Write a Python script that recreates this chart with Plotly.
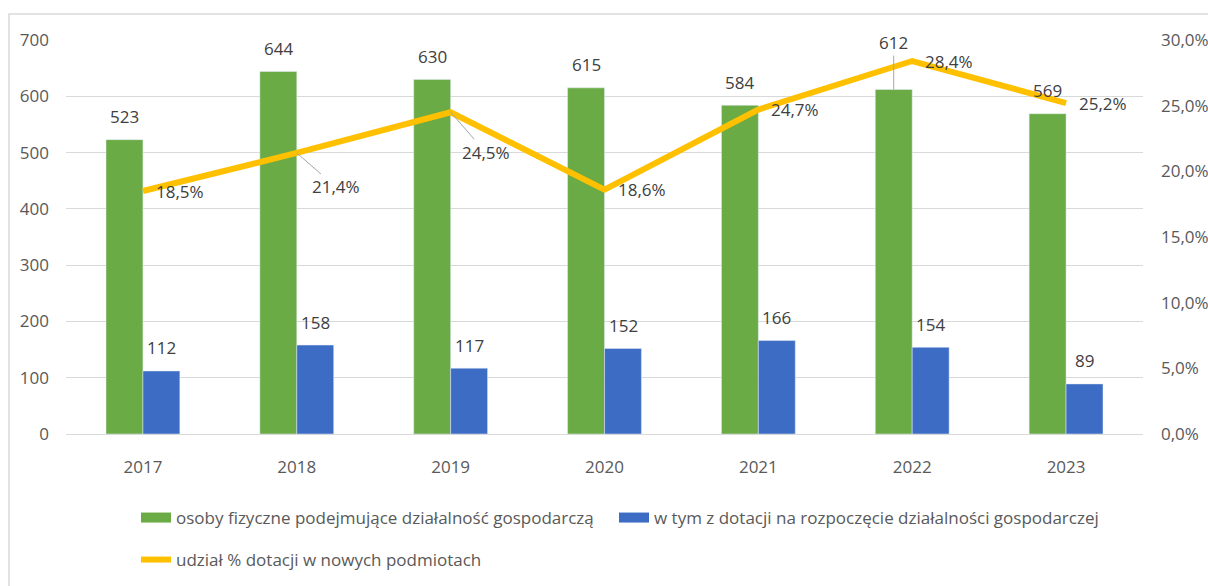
import plotly.graph_objects as go

years = ["2017", "2018", "2019", "2020", "2021", "2022", "2023"]
osoby = [523, 644, 630, 615, 584, 612, 569]
dotacje = [112, 158, 117, 152, 166, 154, 89]
udzial = [0.185, 0.214, 0.245, 0.186, 0.247, 0.284, 0.252]

name_osoby = "osoby fizyczne podejmujące działalność gospodarczą"
name_dot = "w tym z dotacji na rozpoczęcie działalności gospodarczej"
name_udz = "udział % dotacji w nowych podmiotach"

GREEN = "#6aab45"
BLUE = "#3d6cc5"
YELLOW = "#ffc000"
FONT = "Open Sans"
TXT = "#404040"
AX = "#595959"
GRID = "#d9d9d9"

fig = go.Figure()
fig.add_trace(go.Bar(x=years, y=osoby, name=name_osoby, marker_color=GREEN,
                     showlegend=False, offsetgroup="a"))
fig.add_trace(go.Bar(x=years, y=dotacje, name=name_dot, marker_color=BLUE,
                     showlegend=False, offsetgroup="b"))
fig.add_trace(go.Scatter(x=years, y=udzial, name=name_udz, yaxis="y2", mode="lines",
                         line=dict(color=YELLOW, width=6), showlegend=False))

# legend-only entries
fig.add_trace(go.Scatter(x=[None], y=[None], mode="lines", name=name_osoby,
                         line=dict(color=GREEN, width=13), legend="legend"))
fig.add_trace(go.Scatter(x=[None], y=[None], mode="lines", name=name_dot,
                         line=dict(color=BLUE, width=13), legend="legend2"))
fig.add_trace(go.Scatter(x=[None], y=[None], mode="lines", name=name_udz,
                         line=dict(color=YELLOW, width=6), legend="legend3"))

annotations = []
lbl_font = dict(family=FONT, size=17, color=TXT)
# annotation x uses the category serial number (numeric-looking category names)
for i, (yr, v) in enumerate(zip(years, osoby)):
    if yr == "2022":
        annotations.append(dict(x=i, y=v, xref="x", yref="y", text=str(v), showarrow=True,
                                arrowhead=0, arrowwidth=1, arrowcolor="#a6a6a6",
                                ax=0, ay=-47, xshift=-18.5, font=lbl_font))
    else:
        annotations.append(dict(x=i, y=v, xref="x", yref="y", text=str(v), showarrow=False,
                                xshift=-18.5, yshift=23, font=lbl_font))
for i, v in enumerate(dotacje):
    annotations.append(dict(x=i, y=v, xref="x", yref="y", text=str(v), showarrow=False,
                            xshift=18.5, yshift=23, font=lbl_font))

leader = {"2018": (39, 34), "2019": (35, 40)}
for i, (yr, v) in enumerate(zip(years, udzial)):
    txt = f"{v*100:.1f}%".replace(".", ",")
    if yr in leader:
        ax, ay = leader[yr]
        annotations.append(dict(x=i, y=v, xref="x", yref="y2", text=txt, showarrow=True,
                                arrowhead=0, arrowwidth=1, arrowcolor="#a6a6a6",
                                ax=ax, ay=ay, font=lbl_font))
    else:
        annotations.append(dict(x=i, y=v, xref="x", yref="y2", text=txt, showarrow=False,
                                xanchor="left", xshift=11, font=lbl_font))

W, H = 1208, 586
PL, PR, PT, PB = 66, 1143, 40, 434   # plot area in page pixels
L, R, T, B = PL, W - PR, PT, H - PB
pw, ph = PR - PL, PB - PT

def px(xp):
    return (xp - PL) / pw

def py(yp):
    return (PB - yp) / ph

leg_font = dict(family=FONT, size=17, color=AX)
fig.update_layout(
    width=W, height=H,
    margin=dict(l=L, r=R, t=T, b=B, pad=0, autoexpand=False),
    paper_bgcolor="white", plot_bgcolor="white",
    separators=", ",
    barmode="group", bargap=0.52, bargroupgap=0,
    font=dict(family=FONT, size=17, color=AX),
    xaxis=dict(type="category", range=[-0.5, len(years) - 0.5], showgrid=False,
               showline=True, linecolor=GRID, linewidth=1, automargin=False,
               ticks="", ticklabelstandoff=18, tickfont=dict(size=17, color=AX)),
    yaxis=dict(range=[0, 700], dtick=100, showgrid=True, gridcolor=GRID, gridwidth=1,
               zeroline=False, ticks="", ticklabelstandoff=16, automargin=False,
               tickfont=dict(size=17, color=AX)),
    yaxis2=dict(range=[0, 0.30], dtick=0.05, tickformat=".1%", overlaying="y", side="right",
                showgrid=False, zeroline=False, ticks="", ticklabelstandoff=17,
                automargin=False, tickfont=dict(size=17, color=AX)),
    legend=dict(orientation="h", x=px(136), y=py(518), xanchor="left", yanchor="middle",
                font=leg_font, bgcolor="rgba(0,0,0,0)"),
    legend2=dict(orientation="h", x=px(614), y=py(518), xanchor="left", yanchor="middle",
                 font=leg_font, bgcolor="rgba(0,0,0,0)"),
    legend3=dict(orientation="h", x=px(136), y=py(560), xanchor="left", yanchor="middle",
                 font=leg_font, bgcolor="rgba(0,0,0,0)"),
    annotations=annotations,
    shapes=[dict(type="rect", xref="paper", yref="paper",
                 x0=px(9), x1=px(1300), y0=py(700), y1=py(14),
                 line=dict(color=GRID, width=1.5), fillcolor="rgba(0,0,0,0)", layer="below")],
)

# remove the default 8px page margin so the figure fills the window exactly
fig.write_html("out.html", config={"displayModeBar": False},
               post_script="document.body.style.margin='0';")
